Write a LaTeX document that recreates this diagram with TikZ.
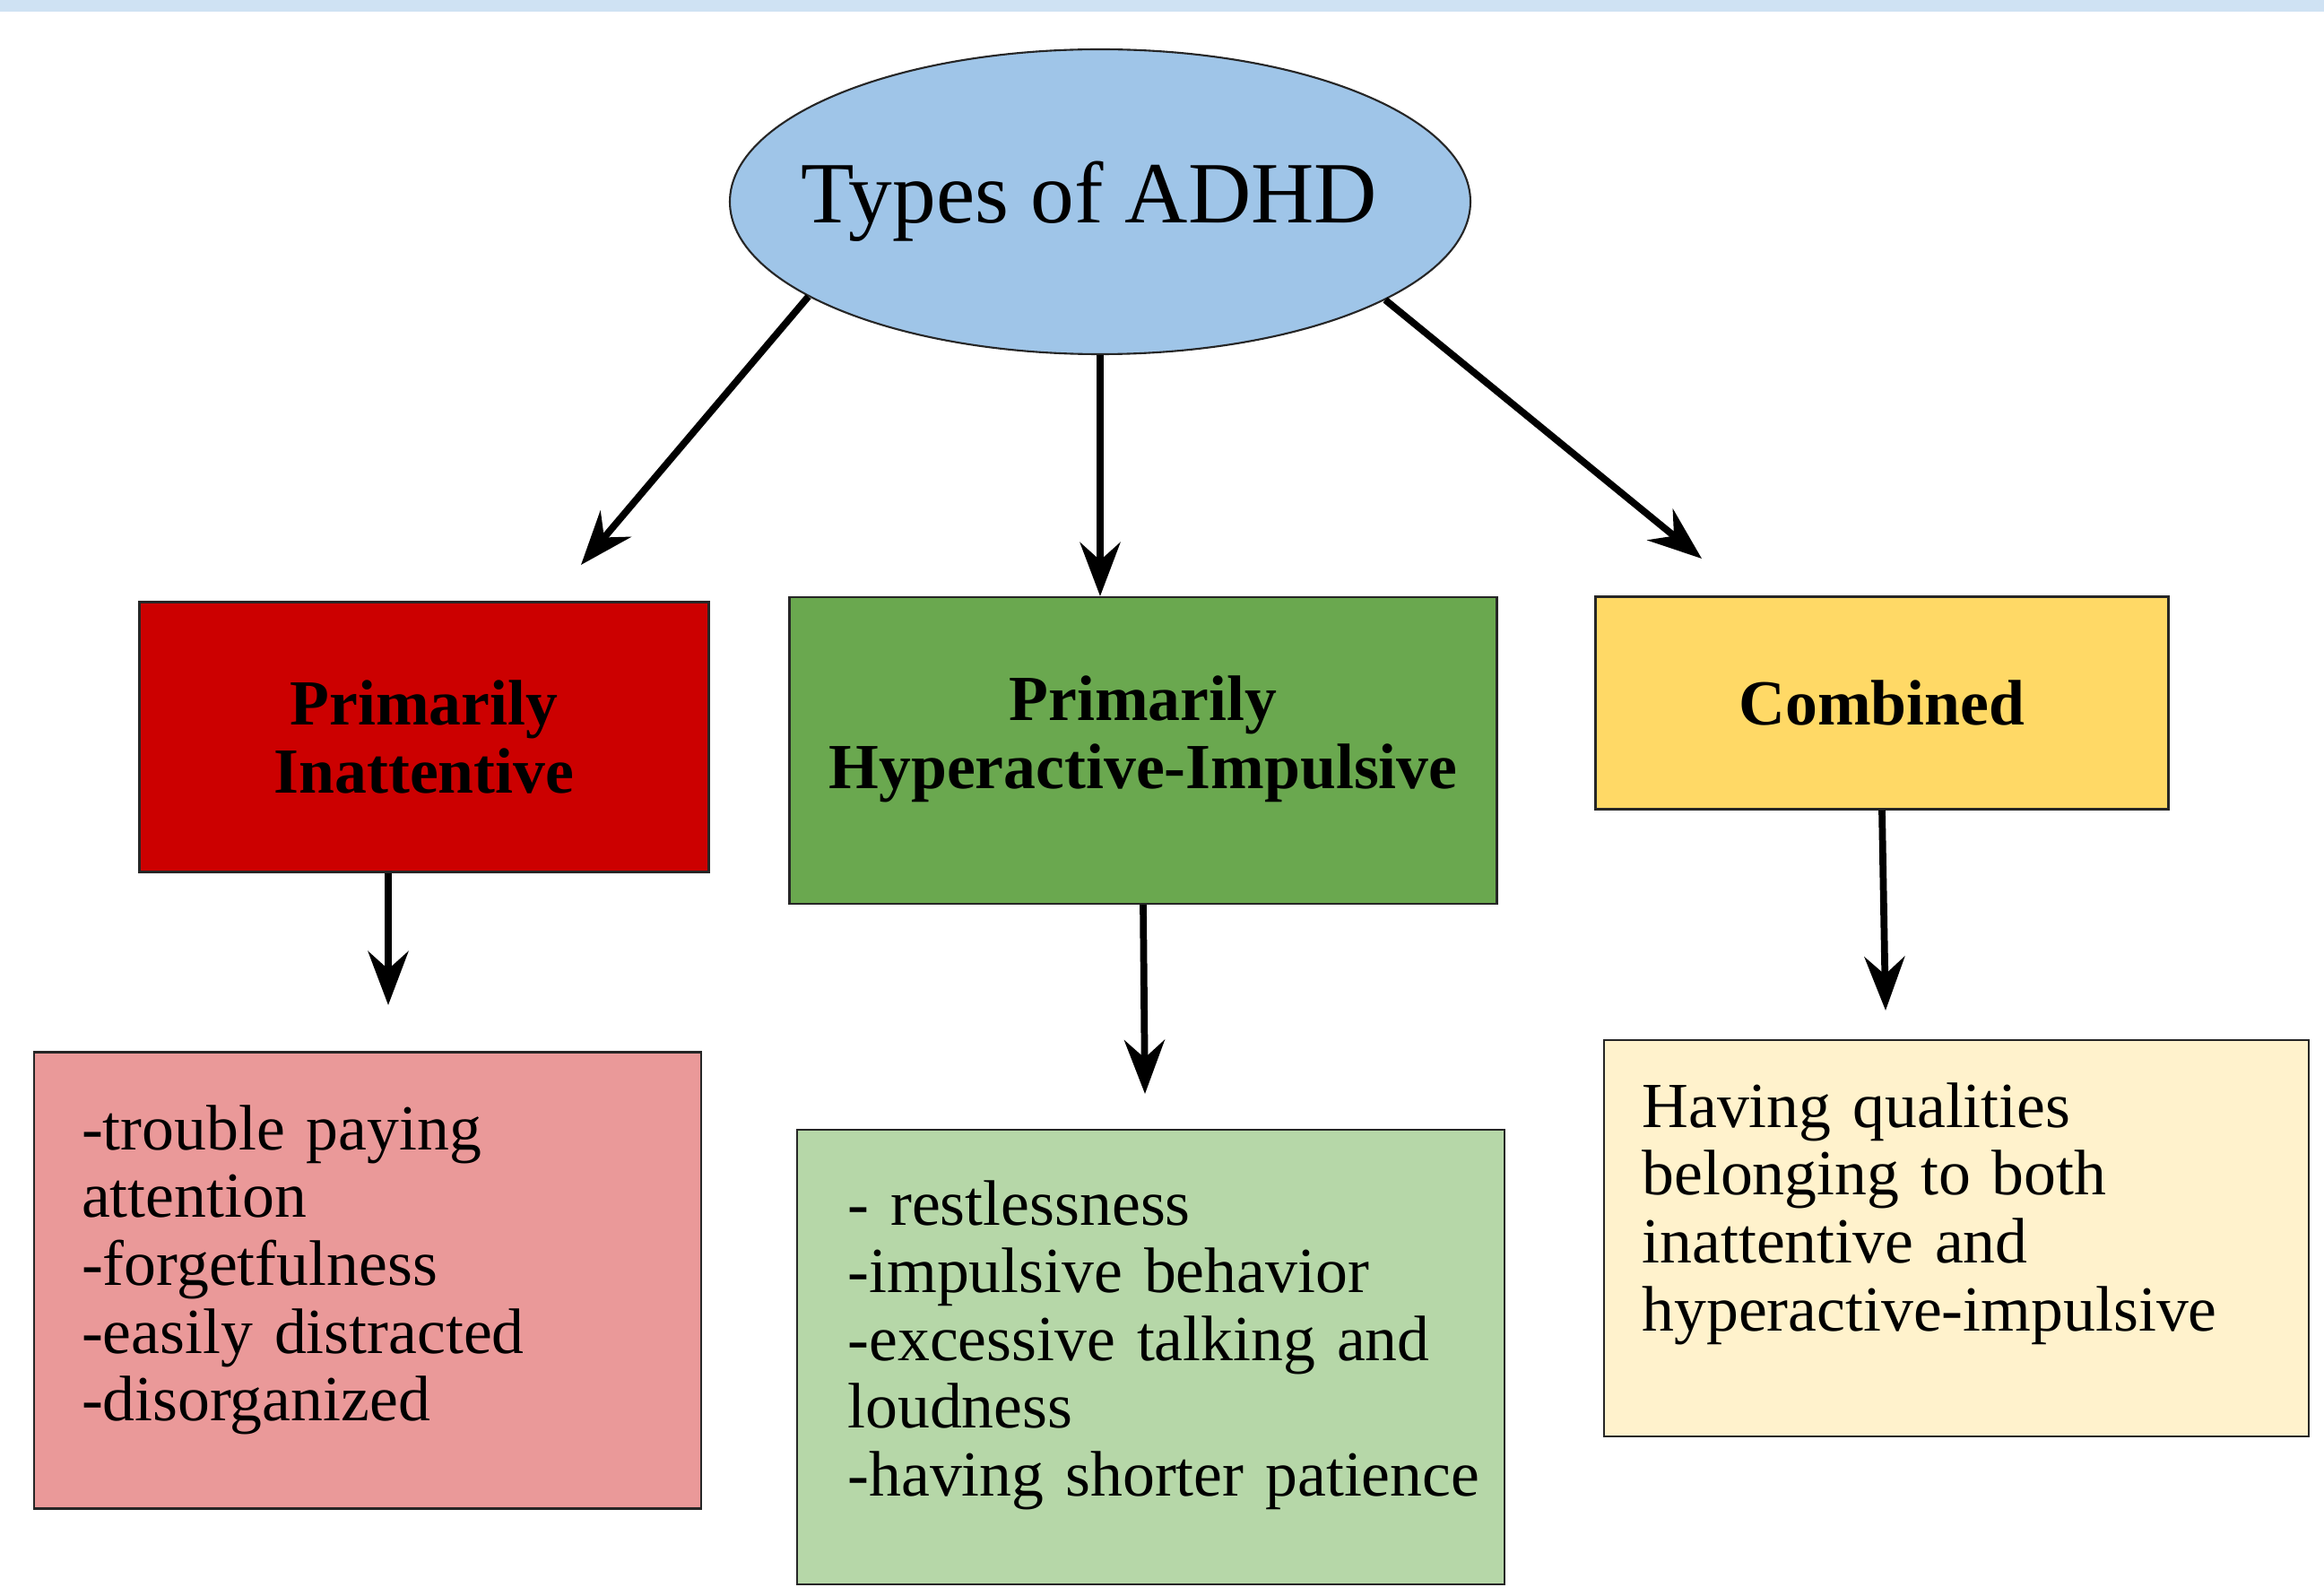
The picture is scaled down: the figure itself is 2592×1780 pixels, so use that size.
\documentclass[tikz,border=0pt]{standalone}
\usepackage{fontspec}
\setmainfont{Liberation Serif}
\usepackage{tikz}
\usetikzlibrary{arrows.meta,positioning,calc,shapes.geometric}
\usepackage{xcolor}
\definecolor{paleblue}{RGB}{207,226,243}
\definecolor{skyblue}{RGB}{159,197,232}
\definecolor{darkred}{RGB}{204,0,0}
\definecolor{leafgreen}{RGB}{106,168,79}
\definecolor{sunyellow}{RGB}{255,217,102}
\definecolor{rosepink}{RGB}{234,153,153}
\definecolor{mintgreen}{RGB}{182,215,168}
\definecolor{creamyellow}{RGB}{255,242,204}

\begin{document}
\begin{tikzpicture}[x=0.1mm, y=-0.1mm, >={Stealth[length=6mm, width=4.5mm, inset=2mm]}]
  \tikzstyle{head}=[rectangle, draw=black!85, line width=0.6pt, inner xsep=1mm, align=center, font=\fontsize{20.4}{21.5}\selectfont\bfseries]
  \tikzstyle{sympt}=[rectangle, draw=black!85, line width=0.6pt, align=left, font=\fontsize{20.4}{21.5}\selectfont]
  \tikzstyle{link}=[->, line width=2.2pt]
  \useasboundingbox (0,0) rectangle (2592,1780);
  \fill[paleblue] (0,0) rectangle (2592,13);
  \node[ellipse, draw=black!85, line width=0.6pt, fill=skyblue, inner sep=0pt, minimum width=82.6mm, minimum height=34mm, font=\fontsize{27.7}{30}\selectfont] (adhd) at (1227,225) {\makebox[0pt]{Types of ADHD\kern2.4mm}};
  \node[head, fill=darkred, minimum width=63.5mm, minimum height=30.1mm, text width=58mm] (inatt) at (473,822) {Primarily\\ Inattentive};
  \node[head, fill=leafgreen, minimum width=78.9mm, minimum height=34.2mm, text width=75mm, text depth=33pt] (hyper) at (1275,837) {Primarily\\ \mbox{Hyperactive-Impulsive}};
  \node[head, fill=sunyellow, minimum width=63.9mm, minimum height=23.7mm, text width=58mm] (comb) at (2099,784) {Combined};
  \node[sympt, fill=rosepink, minimum width=74.4mm, minimum height=50.9mm, text width=63.8mm, text depth=97pt] (inattsym) at (410,1428) {-trouble paying\\ attention\\ -forgetfulness\\ -easily distracted\\ -disorganized};
  \node[sympt, fill=mintgreen, minimum width=78.9mm, minimum height=50.7mm, text width=67.6mm, text depth=98pt] (hypersym) at (1283.5,1513.5) {- restlessness\\ -impulsive behavior\\ -excessive talking and\\ loudness\\ \mbox{-having shorter patience}};
  \node[sympt, fill=creamyellow, minimum width=78.6mm, minimum height=44.2mm, text width=70.1mm, text depth=84.5pt] (combsym) at (2182,1381) {Having qualities\\ belonging to both\\ inattentive and\\ hyperactive-impulsive};
  \coordinate (tipL) at (648,630);
  \coordinate (tipR) at (1898,623);
  \coordinate (tipA) at (433,1121);
  \coordinate (tipB) at (1277,1220);
  \coordinate (tipC) at (2103,1127);
  \draw[link] (adhd.198) -- (tipL);
  \draw[link] (adhd.south) -- (adhd.south |- hyper.north);
  \draw[link] (adhd.341) -- (tipR);
  \draw[link] (inatt.south -| tipA) -- (tipA);
  \draw[link] (hyper.south) -- (tipB);
  \draw[link] (comb.south) -- (tipC);
\end{tikzpicture}
\end{document}
